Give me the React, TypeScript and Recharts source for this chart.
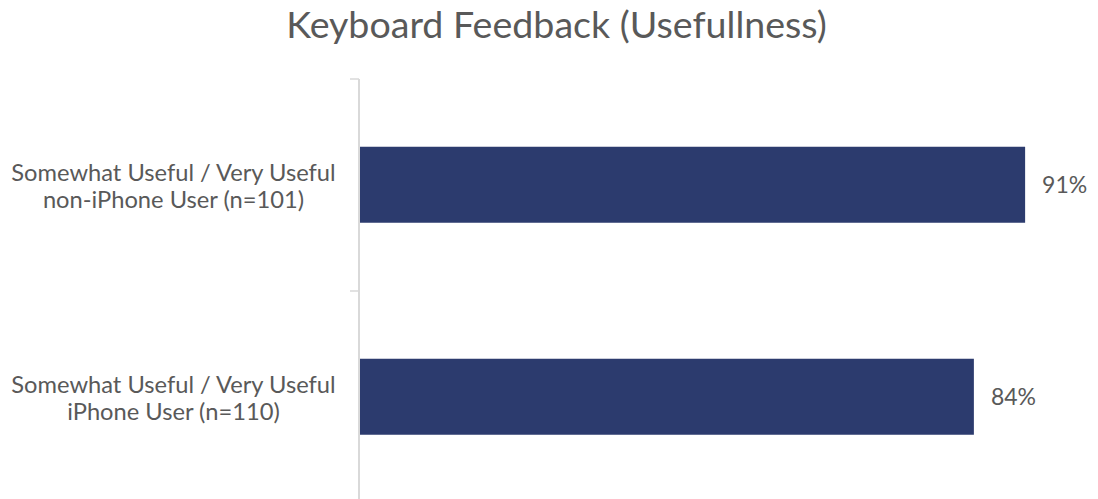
import React from "react";
import { BarChart, Bar, XAxis, YAxis, LabelList } from "recharts";

const categories: string[][] = [
  ["Somewhat Useful / Very Useful", "non-iPhone User (n=101)"],
  ["Somewhat Useful / Very Useful", "iPhone User (n=110)"],
];
const values: number[] = [91, 84];
const title = "Keyboard Feedback (Usefullness)";

const data = categories.map((c, i) => ({ key: String(i), value: values[i] }));

const FONT = "Lato, 'Open Sans', sans-serif";
const TEXT = "#595959";
const AXIS = "#D9D9D9";
const BAR = "#2C3B6E";

const CategoryTick = (props: any) => {
  const { x, y, payload, height } = props;
  const idx = Number(payload.value);
  const lines = categories[idx] || [];
  const band = height / categories.length;
  const top = y - band / 2;
  return (
    <g>
      <line x1={x - 1} x2={x + 8} y1={top} y2={top} stroke={AXIS} strokeWidth={1.5} />
      <text x={173.5} y={y} textAnchor="middle" fill={TEXT} fontFamily={FONT} fontSize={23.7}>
        {lines.map((l, i) => (
          <tspan key={i} x={173.5} y={y - 4.5 + i * 27}>
            {l}
          </tspan>
        ))}
      </text>
    </g>
  );
};

export default function App() {
  return (
    <div style={{ position: "absolute", left: 0, top: 0, width: 1098, height: 499, overflow: "hidden", background: "#fff" }}>
      <div
        style={{
          position: "absolute",
          left: 0,
          top: 0,
          width: 1113,
          textAlign: "center",
          fontFamily: FONT,
          fontSize: 37.6,
          color: TEXT,
          lineHeight: "48px",
        }}
      >
        {title}
      </div>
      <BarChart
        width={1098}
        height={503}
        data={data}
        layout="vertical"
        margin={{ top: 79, right: 7, bottom: 0, left: 0 }}
        barCategoryGap="32%"
      >
        <XAxis type="number" domain={[0, 100]} hide />
        <YAxis
          type="category"
          dataKey="key"
          width={359}
          axisLine={{ stroke: AXIS, strokeWidth: 2 }}
          tickLine={false}
          tick={<CategoryTick />}
        />
        <Bar dataKey="value" fill={BAR} isAnimationActive={false}>
          <LabelList
            dataKey="value"
            position="right"
            offset={17}
            formatter={(v: any) => `${v}%`}
            fill={TEXT}
            fontFamily={FONT}
            fontSize={23}
          />
        </Bar>
      </BarChart>
    </div>
  );
}
